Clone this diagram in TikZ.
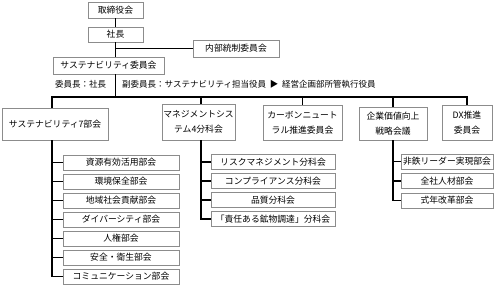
\documentclass[tikz,border=0pt]{standalone}
\usepackage{fontspec}
\setmainfont{Noto Sans CJK JP}
\definecolor{boxgray}{RGB}{140,140,140}
\usetikzlibrary{positioning}

\begin{document}
\begin{tikzpicture}[x=1pt, y=-1pt,
  orgbox/.style={draw=boxgray, line width=0.7pt, fill=white, inner sep=0pt, align=center, font=\fontsize{8.8}{15}\selectfont},
  link/.style={line width=1.6pt, black}]
  \useasboundingbox (0,0) rectangle (496,288);

  % Top management
  \node[orgbox, minimum width=55pt, minimum height=16pt] (board) at (115.5,10) {取締役会};
  \node[orgbox, minimum width=55pt, minimum height=15pt] (pres) at (115.5,34.5) {社長};
  \node[orgbox, minimum width=86pt, minimum height=17pt] (audit) at (236,48.5) {内部統制委員会};
  \node[orgbox, minimum width=111pt, minimum height=17pt] (susc) at (108.5,65.5) {サステナビリティ委員会};

  \draw[link] (board) -- (pres);
  \draw[link] (pres.south) -- (pres.south |- susc.north);
  \draw[link] (pres.south |- audit.west) -- (audit.west);

  % Chair and vice chair
  \node[font=\fontsize{8.5}{10}\selectfont, anchor=west, inner sep=0pt] (chair) at (55,84) {委員長：社長};
  \node[font=\fontsize{8.5}{10}\selectfont, anchor=west, inner sep=0pt] (vice) at (122,84) {副委員長：サステナビリティ担当役員 ~▶~ 経営企画部所管執行役員};

  % Committees
  \node[orgbox, minimum width=106pt, minimum height=32pt] (s7) at (55,124) {サステナビリティ7部会};
  \node[orgbox, minimum width=73pt, minimum height=36pt] (ms4) at (198.5,122) {マネジメントシス\\テム4分科会};
  \node[orgbox, minimum width=79pt, minimum height=35pt] (cn) at (302.5,122.5) {カーボンニュート\\ラル推進委員会};
  \node[orgbox, minimum width=68pt, minimum height=33pt] (kv) at (393,123.5) {企業価値向上\\戦略会議};
  \node[orgbox, minimum width=50pt, minimum height=35pt] (dx) at (467,122.5) {DX推進\\委員会};

  % Bus
  \coordinate (d1) at (52,97);
  \coordinate (d2) at (201,97);
  \coordinate (d3) at (302.5,97);
  \coordinate (d4) at (393,97);
  \coordinate (d5) at (467,97);
  \draw[link] (pres.south |- susc.south) -- (pres.south |- d1);
  \draw[link] (d1 |- s7.north) -- (d1) -- (d5) -- (d5 |- dx.north);
  \foreach \d/\n in {d2/ms4, d3/cn, d4/kv}
    \draw[link] (\d) -- (\d |- \n.north);

  % Sustainability subcommittees
  \foreach \txt [count=\i] in {資源有効活用部会, 環境保全部会, 地域社会貢献部会, ダイバーシティ部会, 人権部会, 安全・衛生部会, コミュニケーション部会}
    \node[orgbox, minimum width=116pt, minimum height=15pt] (l\i) at (121,{143.5+19*\i}) {\txt};
  \draw[link] (d1 |- s7.south) |- (l7.west);
  \foreach \i in {1,...,6}
    \draw[link] (d1 |- l\i.west) -- (l\i.west);

  % Management system subcommittees
  \foreach \txt [count=\i] in {リスクマネジメント分科会, コンプライアンス分科会, 品質分科会, 「責任ある鉱物調達」分科会}
    \node[orgbox, minimum width=124pt, minimum height=15pt] (m\i) at (273,{143+19*\i}) {\txt};
  \draw[link] (d2 |- ms4.south) |- (m4.west);
  \foreach \i in {1,...,3}
    \draw[link] (d2 |- m\i.west) -- (m\i.west);

  % Corporate value subcommittees
  \foreach \txt [count=\i] in {非鉄リーダー実現部会, 全社人材部会, 式年改革部会}
    \node[orgbox, minimum width=92pt, minimum height=15pt] (r\i) at (447,{142+19.5*\i}) {\txt};
  \draw[link] (kv.south) |- (r3.west);
  \foreach \i in {1,2}
    \draw[link] (d4 |- r\i.west) -- (r\i.west);
\end{tikzpicture}
\end{document}
